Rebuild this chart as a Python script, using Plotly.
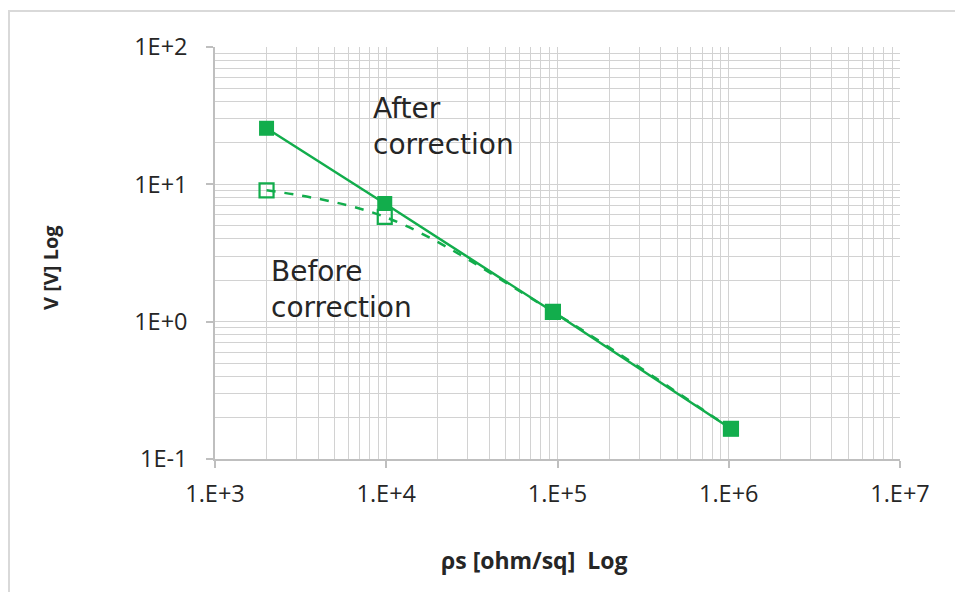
import plotly.graph_objects as go

# Data
rho_after = [2000, 9800, 94000, 1030000]
v_after = [25.6, 7.25, 1.18, 0.166]
rho_before = [2000, 9800, 94000, 1030000]
v_before = [9.05, 5.8, 1.18, 0.166]

x_tickvals = [1e3, 1e4, 1e5, 1e6, 1e7]
x_ticktext = ["1.E+3", "1.E+4", "1.E+5", "1.E+6", "1.E+7"]
y_tickvals = [0.1, 1, 10, 100]
y_ticktext = ["1E-1", "1E+0", "1E+1", "1E+2"]

GREEN = "#12AD4C"
GRID = "#D2D2D2"
TXT = "#262626"
FONT = "Open Sans"
LABEL_FONT = "DejaVu Sans"

W, H = 955, 592
L, R, T, B = 215, 55, 47, 133
PW, PH = W - L - R, H - T - B


def px_to_paper_x(px):
    return (px - L) / PW


def px_to_paper_y(py):
    return (H - B - py) / PH


fig = go.Figure()

fig.add_trace(go.Scatter(
    x=rho_before, y=v_before, mode="lines+markers",
    line=dict(color=GREEN, width=2.5, dash="dash", shape="spline"),
    marker=dict(symbol="square-open", size=14, color=GREEN, line=dict(width=2.2, color=GREEN)),
    showlegend=False,
))
fig.add_trace(go.Scatter(
    x=rho_after, y=v_after, mode="lines+markers",
    line=dict(color=GREEN, width=2.5),
    marker=dict(symbol="square", size=15, color=GREEN),
    showlegend=False,
))

axis_common = dict(
    type="log",
    showline=True, linecolor="#BFBFBF", linewidth=1.5,
    showgrid=True, gridcolor=GRID, gridwidth=1,
    ticks="outside", tickcolor="#BFBFBF", ticklen=7, tickwidth=1.5,
    zeroline=False,
    tickfont=dict(family=FONT, size=23.5, color=TXT),
    minor=dict(dtick="D1", showgrid=True, gridcolor=GRID, gridwidth=1, ticks=""),
    mirror=False,
)

fig.update_xaxes(range=[3, 7], tickmode="array", tickvals=x_tickvals, ticktext=x_ticktext,
                 ticklabelstandoff=6, **axis_common)
fig.update_yaxes(range=[-1, 2], tickmode="array", tickvals=y_tickvals, ticktext=y_ticktext,
                 ticklabelstandoff=14, **axis_common)

labels = [
    ("After<br>correction", 371, 90),
    ("Before<br>correction", 269, 253),
]
for text, lx, ty in labels:
    fig.add_annotation(xref="paper", yref="paper", showarrow=False,
                       x=px_to_paper_x(lx), y=px_to_paper_y(ty),
                       xanchor="left", yanchor="top", align="left", text=text,
                       font=dict(family=LABEL_FONT, size=28, color=TXT))

fig.add_annotation(xref="paper", yref="paper", showarrow=False,
                   x=px_to_paper_x(534), y=px_to_paper_y(560),
                   xanchor="center", yanchor="middle",
                   text="<b>ρs [ohm/sq]  Log</b>",
                   font=dict(family=FONT, size=23, color=TXT))
fig.add_annotation(xref="paper", yref="paper", showarrow=False,
                   x=px_to_paper_x(50), y=px_to_paper_y(268),
                   xanchor="center", yanchor="middle", textangle=-90,
                   text="<b>V [V] Log</b>",
                   font=dict(family=FONT, size=20, color=TXT))

# Chart area border
fig.add_shape(type="rect", xref="paper", yref="paper",
              x0=px_to_paper_x(9), x1=px_to_paper_x(965),
              y0=px_to_paper_y(605), y1=px_to_paper_y(11),
              line=dict(color="#D9D9D9", width=2), layer="below")

fig.update_layout(
    width=W, height=H,
    margin=dict(l=L, r=R, t=T, b=B),
    paper_bgcolor="white", plot_bgcolor="white",
    font=dict(family=FONT, color=TXT),
)

fig.write_html("out.html")
